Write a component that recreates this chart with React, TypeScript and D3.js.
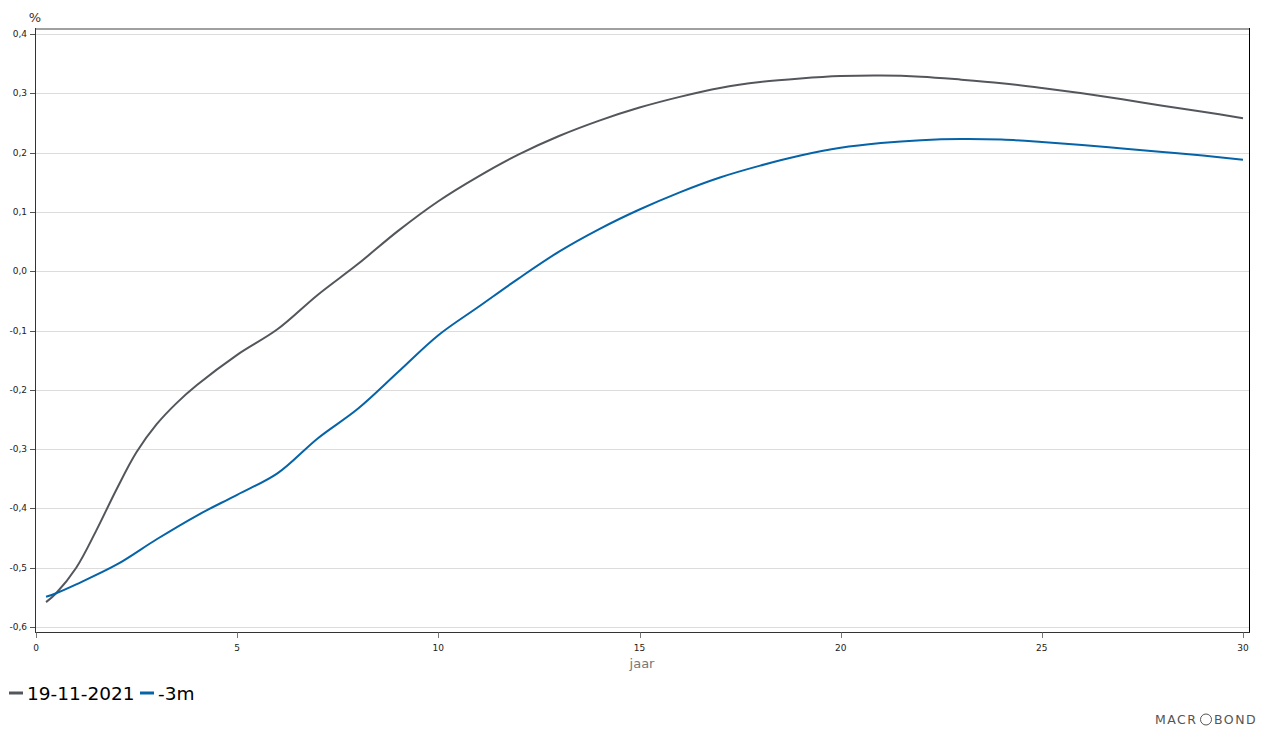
import React from "react";
import * as d3 from "d3";

const tenors = [0.25, 0.5, 1, 1.5, 2, 2.5, 3, 3.5, 4, 5, 6, 7, 8, 9, 10, 11, 12, 13, 14, 15, 16, 17, 18, 19, 20, 21, 22, 23, 24, 25, 26, 27, 28, 29, 30];
const current = [-0.558, -0.543, -0.5, -0.437, -0.368, -0.305, -0.258, -0.222, -0.192, -0.141, -0.098, -0.04, 0.012, 0.068, 0.118, 0.16, 0.197, 0.228, 0.254, 0.276, 0.294, 0.309, 0.319, 0.325, 0.329, 0.33, 0.328, 0.323, 0.317, 0.309, 0.3, 0.29, 0.279, 0.269, 0.258];
const tenorsPrev = [0.25, 0.5, 1, 2, 3, 4, 5, 6, 7, 8, 9, 10, 11, 12, 13, 14, 15, 16, 17, 18, 19, 20, 21, 22, 23, 24, 25, 26, 27, 28, 29, 30];
const prev = [-0.549, -0.543, -0.528, -0.495, -0.452, -0.412, -0.377, -0.341, -0.282, -0.232, -0.17, -0.108, -0.06, -0.012, 0.033, 0.071, 0.104, 0.133, 0.158, 0.178, 0.195, 0.208, 0.216, 0.221, 0.223, 0.222, 0.218, 0.213, 0.207, 0.201, 0.195, 0.188];
const yTicks = [0.4, 0.3, 0.2, 0.1, 0, -0.1, -0.2, -0.3, -0.4, -0.5, -0.6];
const xTicks = [0, 5, 10, 15, 20, 25, 30];
const seriesNames = ["19-11-2021", "-3m"];
const seriesColors = ["#53575c", "#0563a8"];

export default function App() {
  const W = 1263, H = 738;
  const x = d3.scaleLinear().domain([0, 30]).range([36, 1243]);
  const y = d3.scaleLinear().domain([-0.6, 0.4]).range([627, 34]);
  const line = d3.line<[number, number]>().x(d => x(d[0])).y(d => y(d[1])).curve(d3.curveCatmullRom.alpha(0.5));
  const d1 = line(tenors.map((t, i) => [t, current[i]]) as [number, number][]) || "";
  const d2 = line(tenorsPrev.map((t, i) => [t, prev[i]]) as [number, number][]) || "";
  const fmt = (v: number) => v.toFixed(1).replace(".", ",").replace("-0,0", "0,0");
  const font = "DejaVu Sans, Verdana, sans-serif";
  return (
    <svg width={W} height={H} style={{ position: "absolute", left: 0, top: 0, background: "#fff" }} fontFamily={font}>
      {yTicks.map(t => (
        <g key={t}>
          <line x1={35.5} x2={1249} y1={Math.round(y(t)) + 0.5} y2={Math.round(y(t)) + 0.5} stroke="#dcdcdc" strokeWidth={1} />
          <line x1={30} x2={35.5} y1={Math.round(y(t)) + 0.5} y2={Math.round(y(t)) + 0.5} stroke="#555" strokeWidth={1} />
          <text x={27} y={y(t) + 3} textAnchor="end" fontSize={9} fill="#222">{fmt(t)}</text>
        </g>
      ))}
      <line x1={35} x2={1249.5} y1={29} y2={29} stroke="#a0a0a0" strokeWidth={2} />
      <line x1={1249.5} x2={1249.5} y1={28} y2={632.5} stroke="#000" strokeWidth={1} />
      <line x1={35.5} x2={35.5} y1={28} y2={632.5} stroke="#333" strokeWidth={1} />
      <line x1={35} x2={1250} y1={632.5} y2={632.5} stroke="#333" strokeWidth={1} />
      {xTicks.map(t => (
        <g key={t}>
          <line x1={Math.round(x(t)) + 0.5} x2={Math.round(x(t)) + 0.5} y1={632.5} y2={638} stroke="#777" strokeWidth={1} />
          <text x={x(t)} y={651} textAnchor="middle" fontSize={9} fill="#222">{t}</text>
        </g>
      ))}
      <text x={35} y={22} textAnchor="middle" fontSize={13} fill="#333">%</text>
      <text x={642} y={668} textAnchor="middle" fontSize={13} fill="#777">jaar</text>
      <path d={d1} fill="none" stroke={seriesColors[0]} strokeWidth={2} />
      <path d={d2} fill="none" stroke={seriesColors[1]} strokeWidth={2} />
      <line x1={9} x2={23} y1={693} y2={693} stroke={seriesColors[0]} strokeWidth={3} />
      <text x={27} y={700} fontSize={18.5} fill="#000">{seriesNames[0]}</text>
      <line x1={140} x2={154} y1={693} y2={693} stroke={seriesColors[1]} strokeWidth={3} />
      <text x={158} y={700} fontSize={18.5} fill="#000">{seriesNames[1]}</text>
      <g fill="#555" fontSize={12.5} fontFamily="DejaVu Sans, sans-serif" style={{ letterSpacing: "1.5px" }}>
        <text x={1155} y={724}>MACR</text>
        <circle cx={1206} cy={719.5} r={5.5} fill="none" stroke="#555" strokeWidth={1} />
        <text x={1214} y={724}>BOND</text>
      </g>
    </svg>
  );
}
